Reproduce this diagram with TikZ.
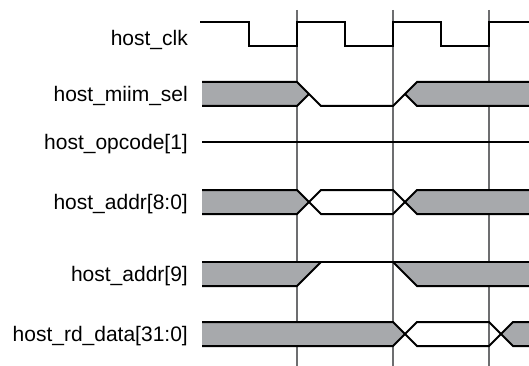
\documentclass[tikz,border=0pt]{standalone}
\usepackage{fontspec}
\setmainfont{Liberation Sans}
\definecolor{busgray}{HTML}{A7A9AC}
\definecolor{edgegray}{HTML}{6D6E70}
\begin{document}
\begin{tikzpicture}[x=1pt, y=-1pt,
  every node/.style={font=\fontsize{21}{25}\selectfont, anchor=base east, inner sep=0pt},
  wave/.style={line width=2pt, line join=miter},
  busfill/.style={fill=busgray},
  clkedge/.style={edgegray, line width=1.3pt}]
  \useasboundingbox (0,0) rectangle (529,366);
  % rising clock edges
  \foreach \x in {297,393,489}
    \draw[clkedge] (\x,10) -- (\x,366);
  % signal names
  \node (clk)   at (188,45.5)  {host\_clk};
  \node (sel)   at (188,101.5) {host\_miim\_sel};
  \node (opc)   at (188,149.5) {host\_opcode[1]};
  \node (addr)  at (188,209.5) {host\_addr[8:0]};
  \node (addrn) at (188,281.5) {host\_addr[9]};
  \node (rdata) at (188,341.5) {host\_rd\_data[31:0]};
  % host_clk
  \draw[wave] (200,22) -- (249,22) -- (249,46) -- (297,46) -- (297,22) -- (345,22)
    -- (345,46) -- (393,46) -- (393,22) -- (441,22) -- (441,46) -- (489,46)
    -- (489,22) -- (529,22);
  % host_miim_sel
  \fill[busfill] (202,82) -- (297,82) -- (309,94) -- (297,106) -- (202,106) -- cycle;
  \fill[busfill] (529,82) -- (417,82) -- (405,94) -- (417,106) -- (529,106) -- cycle;
  \draw[wave] (202,82) -- (297,82) -- (321,106) -- (393,106) -- (417,82) -- (529,82);
  \draw[wave] (202,106) -- (297,106) -- (309,94);
  \draw[wave] (405,94) -- (417,106) -- (529,106);
  % host_opcode[1]
  \draw[wave] (202,142) -- (529,142);
  % host_addr[8:0]
  \fill[busfill] (202,190) -- (297,190) -- (309,202) -- (297,214) -- (202,214) -- cycle;
  \fill[busfill] (529,190) -- (417,190) -- (405,202) -- (417,214) -- (529,214) -- cycle;
  \draw[wave] (202,190) -- (297,190) -- (321,214) -- (393,214) -- (417,190) -- (529,190);
  \draw[wave] (202,214) -- (297,214) -- (321,190) -- (393,190) -- (417,214) -- (529,214);
  % host_addr[9]
  \fill[busfill] (202,262) -- (321,262) -- (297,286) -- (202,286) -- cycle;
  \fill[busfill] (393,262) -- (529,262) -- (529,286) -- (417,286) -- cycle;
  \draw[wave] (202,262) -- (529,262);
  \draw[wave] (202,286) -- (297,286) -- (321,262);
  \draw[wave] (393,262) -- (417,286) -- (529,286);
  % host_rd_data[31:0]
  \fill[busfill] (202,322) -- (393,322) -- (405,334) -- (393,346) -- (202,346) -- cycle;
  \fill[busfill] (529,322) -- (513,322) -- (501,334) -- (513,346) -- (529,346) -- cycle;
  \draw[wave] (202,322) -- (393,322) -- (417,346) -- (489,346) -- (513,322) -- (529,322);
  \draw[wave] (202,346) -- (393,346) -- (417,322) -- (489,322) -- (513,346) -- (529,346);
\end{tikzpicture}
\end{document}
